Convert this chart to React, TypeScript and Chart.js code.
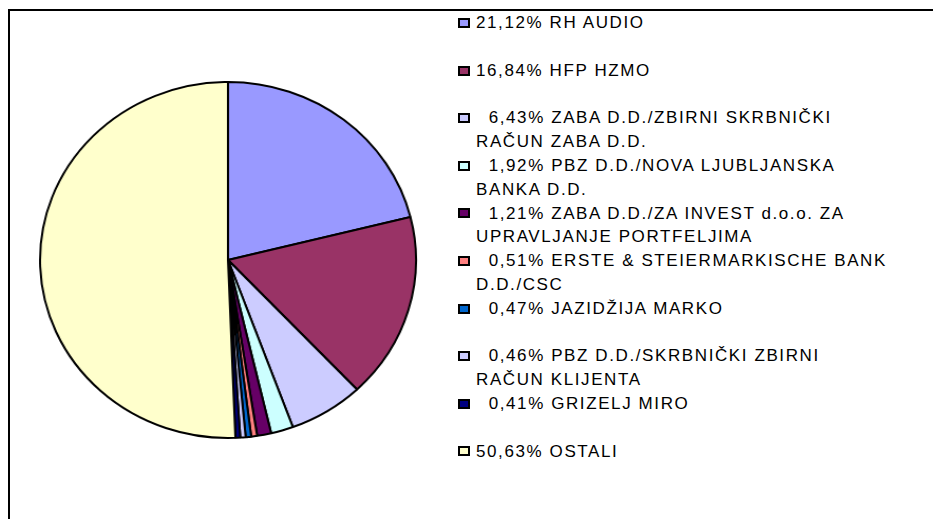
import React, { useEffect, useRef } from "react";
import { Chart, registerables } from "chart.js";

Chart.register(...registerables);

// Holders (label lines as printed in the legend)
const holders: string[][] = [
  ["RH AUDIO"],
  ["HFP HZMO"],
  ["ZABA D.D./ZBIRNI SKRBNIČKI", "RAČUN ZABA D.D."],
  ["PBZ D.D./NOVA LJUBLJANSKA", "BANKA D.D."],
  ["ZABA D.D./ZA INVEST d.o.o. ZA", "UPRAVLJANJE PORTFELJIMA"],
  ["ERSTE & STEIERMARKISCHE BANK", "D.D./CSC"],
  ["JAZIDŽIJA MARKO"],
  ["PBZ D.D./SKRBNIČKI ZBIRNI", "RAČUN KLIJENTA"],
  ["GRIZELJ MIRO"],
  ["OSTALI"],
];

// Ownership share, %
const shares: number[] = [21.12, 16.84, 6.43, 1.92, 1.21, 0.51, 0.47, 0.46, 0.41, 50.63];

const sliceColors: string[] = [
  "#9999FF",
  "#993366",
  "#CCCCFF",
  "#CCFFFF",
  "#660066",
  "#FF8080",
  "#0066CC",
  "#CCCCFF",
  "#000080",
  "#FFFFCC",
];

const fmtPct = (v: number) => {
  const s = v.toFixed(2).replace(".", ",") + "%";
  return v < 10 ? "\u00A0\u00A0" + s : s;
};

export default function App() {
  const canvasRef = useRef<HTMLCanvasElement | null>(null);

  useEffect(() => {
    const canvas = canvasRef.current;
    if (!canvas) return;
    const chart = new Chart(canvas, {
      type: "pie",
      data: {
        labels: holders.map((l) => l.join(" ")),
        datasets: [
          {
            data: shares,
            backgroundColor: sliceColors,
            borderColor: "#000000",
            borderWidth: 2,
            radius: 178,
          },
        ],
      },
      options: {
        responsive: false,
        animation: false,
        devicePixelRatio: 1,
        events: [],
        layout: { padding: 0 },
        plugins: {
          legend: { display: false },
          tooltip: { enabled: false },
          title: { display: false },
        },
      },
    });
    return () => chart.destroy();
  }, []);

  const pitch = 47.6;
  const firstCenter = 23;
  const lineH = 23.5;

  return (
    <div
      style={{
        position: "absolute",
        left: 0,
        top: 0,
        width: 933,
        height: 519,
        overflow: "hidden",
        background: "#ffffff",
        fontFamily: '"Liberation Sans", Arial, sans-serif',
      }}
    >
      <div
        style={{
          position: "absolute",
          left: 8,
          top: 9,
          width: 1000,
          height: 600,
          borderTop: "2px solid #000",
          borderLeft: "2px solid #000",
        }}
      />
      <div
        style={{
          position: "absolute",
          left: 48,
          top: 80,
          width: 360,
          height: 360,
          transform: "scaleX(1.056)",
          transformOrigin: "180px 180px",
        }}
      >
        <canvas ref={canvasRef} width={360} height={360} style={{ width: 360, height: 360, display: "block" }} />
      </div>
      {holders.map((lines, i) => {
        const c = firstCenter + i * pitch;
        return (
          <React.Fragment key={i}>
            <div
              style={{
                position: "absolute",
                left: 458,
                top: c - 5,
                width: 12,
                height: 10,
                boxSizing: "border-box",
                border: "2px solid #000",
                background: sliceColors[i],
              }}
            />
            <div
              style={{
                position: "absolute",
                left: 476,
                top: c - lineH / 2,
                fontSize: 17,
                lineHeight: lineH + "px",
                letterSpacing: "1.6px",
                color: "#000",
                whiteSpace: "nowrap",
              }}
            >
              {lines.map((ln, j) => (
                <div key={j}>{j === 0 ? fmtPct(shares[i]) + " " + ln : ln}</div>
              ))}
            </div>
          </React.Fragment>
        );
      })}
    </div>
  );
}
